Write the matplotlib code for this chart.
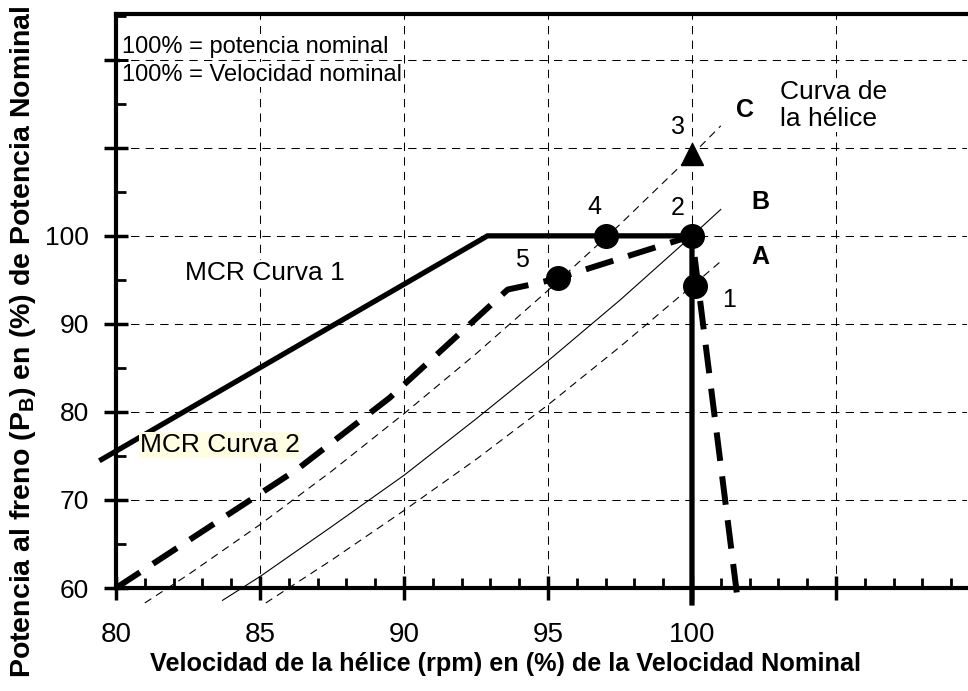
import matplotlib
matplotlib.use("Agg")
import matplotlib.pyplot as plt
from matplotlib.ticker import MultipleLocator, FixedLocator

plt.rcParams['font.family'] = ['Liberation Sans', 'DejaVu Sans']

# MCR curves (solid = curva 1, thick dashed = curva 2)
mcr1_x = [79.5, 92.9, 100.0, 100.0]
mcr1_y = [74.6, 100.0, 100.0, 58.3]
mcr2_x = [80.0, 86.3, 89.5, 93.6, 94.6, 95.35, 100.0, 101.6]
mcr2_y = [60.0, 73.5, 81.6, 93.9, 94.6, 95.2, 100.0, 58.3]

# propeller curves A, B, C
curve_a_x = [85.2, 87.5, 90.0, 92.5, 95.0, 97.5, 100.0, 101.0]
curve_a_y = [58.3, 63.2, 68.8, 74.6, 80.8, 87.4, 94.3, 97.1]
curve_b_x = [83.7, 85.0, 87.5, 90.0, 92.5, 95.0, 97.5, 100.0, 101.0]
curve_b_y = [58.6, 61.3, 67.0, 72.8, 79.2, 85.8, 92.7, 100.0, 103.0]
curve_c_x = [81.0, 82.5, 85.0, 87.5, 90.0, 92.5, 95.0, 97.5, 100.0, 101.0]
curve_c_y = [58.3, 61.5, 67.2, 73.3, 79.8, 86.6, 93.8, 101.3, 109.2, 112.5]

# operating points
pt_x = [100.1, 100.0, 97.0, 95.35]
pt_y = [94.3, 100.0, 100.0, 95.2]
pt3_x, pt3_y = 100.0, 109.3

pt_labels = ['1', '2', '3', '4', '5']
pt_label_x = [101.3, 99.5, 99.5, 96.6, 94.1]
pt_label_y = [92.7, 103.2, 112.4, 103.3, 97.3]

curve_names = ['A', 'B', 'C']
curve_name_x = [102.36, 102.36, 101.84]
curve_name_y = [97.6, 103.9, 114.3]

x_ticks = [80, 85, 90, 95, 100, 105]
x_ticklabels = ['80', '85', '90', '95', '100', '']
y_ticks = [60, 70, 80, 90, 100, 110, 120]
y_ticklabels = ['60', '70', '80', '90', '100', '', '']

fig = plt.figure(figsize=(9.68, 6.91), dpi=100)
ax = fig.add_axes([116 / 968, 1 - 588 / 691, (967 - 116) / 968, (588 - 14) / 691])
ax.set_xlim(80, 109.55)
ax.set_ylim(60, 125.2)

# grid
grid_kw = dict(color='black', lw=0.75, ls=(0, (8, 6)), zorder=1)
for xv in x_ticks[1:]:
    ax.axvline(xv, **grid_kw)
for yv in y_ticks[1:]:
    ax.axhline(yv, **grid_kw)

# propeller curves
ax.plot(curve_a_x, curve_a_y, color='black', lw=0.8, ls=(0, (7, 5)), clip_on=False, zorder=2)
ax.plot(curve_b_x, curve_b_y, color='black', lw=0.8, clip_on=False, zorder=2)
ax.plot(curve_c_x, curve_c_y, color='black', lw=0.8, ls=(0, (7, 5)), clip_on=False, zorder=2)

# MCR curves
ax.plot(mcr1_x, mcr1_y, color='black', lw=3.8, solid_joinstyle='miter',
        clip_on=False, zorder=3)
ax.plot(mcr2_x, mcr2_y, color='black', lw=4.3, ls=(0, (4.8, 2.6)),
        dash_capstyle='butt', clip_on=False, zorder=3)

# points
ax.plot(pt_x, pt_y, 'o', color='black', ms=17, zorder=5)
ax.plot([pt3_x], [pt3_y], '^', color='black', ms=16, zorder=5)

for s, xv, yv in zip(pt_labels, pt_label_x, pt_label_y):
    ax.text(xv, yv, s, fontsize=18, ha='center', va='center', zorder=6)
for s, xv, yv in zip(curve_names, curve_name_x, curve_name_y):
    ax.text(xv, yv, s, fontsize=18, fontweight='bold', ha='center', va='center', zorder=6)

ax.text(103.06, 114.8, 'Curva de\nla hélice', fontsize=19, ha='left', va='center',
        bbox=dict(facecolor='white', edgecolor='none', pad=0.5), zorder=6)
ax.text(85.17, 95.8, 'MCR Curva 1', fontsize=19, ha='center', va='center',
        bbox=dict(facecolor='white', edgecolor='none', pad=1), zorder=6)
ax.text(83.6, 76.25, 'MCR Curva 2', fontsize=19, ha='center', va='center',
        bbox=dict(facecolor='#fffde2', edgecolor='none', pad=0.5), zorder=6)
ax.text(80.2, 121.5, '100% = potencia nominal', fontsize=17, ha='left', va='center',
        bbox=dict(facecolor='white', edgecolor='none', pad=1), zorder=6)
ax.text(80.2, 118.3, '100% = Velocidad nominal', fontsize=17, ha='left', va='center',
        bbox=dict(facecolor='white', edgecolor='none', pad=1), zorder=6)

# axes style
for side in ['left', 'bottom', 'top']:
    ax.spines[side].set_linewidth(3)
ax.spines['right'].set_visible(False)

ax.xaxis.set_major_locator(FixedLocator(x_ticks))
ax.set_xticklabels(x_ticklabels)
ax.xaxis.set_minor_locator(MultipleLocator(1))
ax.yaxis.set_major_locator(FixedLocator(y_ticks))
ax.set_yticklabels(y_ticklabels)
ax.yaxis.set_minor_locator(MultipleLocator(5))
ax.tick_params(which='major', direction='inout', length=17, width=2.5)
ax.tick_params(which='minor', direction='in', length=7, width=2)
ax.tick_params(axis='x', which='major', labelsize=20, pad=16)
ax.tick_params(axis='y', which='major', labelsize=19, pad=11)

ax.set_xlabel('Velocidad de la hélice (rpm) en (%) de la Velocidad Nominal',
              fontsize=18.2, fontweight='bold')
ax.xaxis.set_label_coords((506 - 116) / 851, -(652 - 588) / 574)
ax.set_ylabel('Potencia al freno (P$_\\mathregular{B}$) en (%) de Potencia Nominal',
              fontsize=20.5, fontweight='bold')
ax.yaxis.set_label_coords(-(116 - 38) / 851, (588 - 342) / 574)

fig.savefig('out.png', dpi=100)
